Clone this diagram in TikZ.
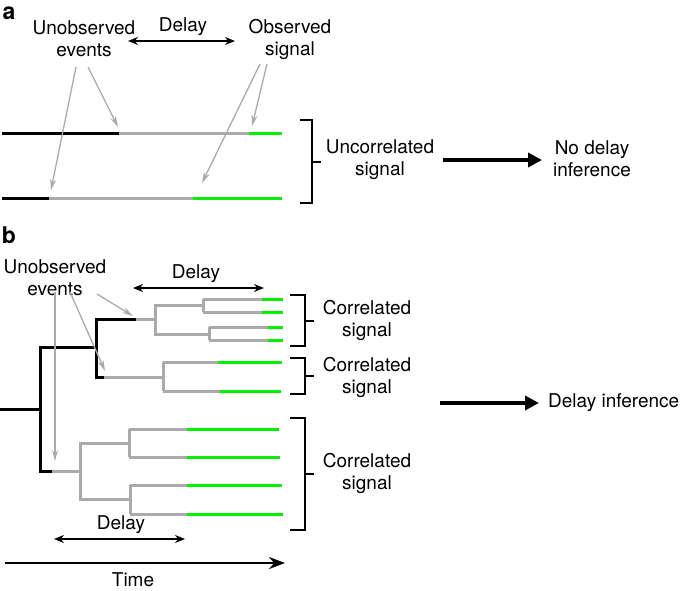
\documentclass[tikz,border=0pt]{standalone}
\usepackage{fontspec}
\setmainfont{TeX Gyre Heros}
\usetikzlibrary{arrows.meta}
\definecolor{lgray}{RGB}{170,170,170}
\definecolor{sgreen}{RGB}{0,240,0}
\begin{document}
\begin{tikzpicture}[x=1pt,y=-1pt,
  txt/.style={font=\fontsize{19}{22}\selectfont, align=center, inner sep=0pt},
  lbl/.style={font=\fontsize{23}{24}\selectfont\bfseries, inner sep=0pt},
  blk/.style={line width=3pt, black},
  gry/.style={line width=3pt, lgray},
  grn/.style={line width=3pt, sgreen},
  pointer/.style={lgray, line width=1.3pt, -{Stealth[length=11pt,width=6pt]}},
  dbl/.style={black, line width=1.6pt, {Stealth[length=10pt,width=8pt]}-{Stealth[length=10pt,width=8pt]}},
  bigarrow/.style={black, line width=4.5pt, -{Triangle[length=14pt,width=14pt]}},
  brk/.style={black, line width=1.4pt}]
\useasboundingbox (0,0) rectangle (683,590);

% ---------------- panel a ----------------
\node[lbl] (la) at (9,13) {a};
\node[txt] (ueA) at (84,39) {Unobserved\\events};
\node[txt] (delA) at (183,27) {Delay};
\node[txt] (osA) at (290,39) {Observed\\signal};
\coordinate (dA1) at (128,41);
\coordinate (dA2) at (235,41);
\draw[dbl] (dA1) -- (dA2);

% lines
\coordinate (a1s) at (2,133); \coordinate (a1b) at (119,133); \coordinate (a1g) at (249,133); \coordinate (a1e) at (282,133);
\coordinate (a2s) at (2,198); \coordinate (a2b) at (49,198); \coordinate (a2g) at (193,198); \coordinate (a2e) at (282,198);
\draw[blk] (a1s) -- (a1b); \draw[gry] (a1b) -- (a1g); \draw[grn] (a1g) -- (a1e);
\draw[blk] (a2s) -- (a2b); \draw[gry] (a2b) -- (a2g); \draw[grn] (a2g) -- (a2e);

% pointers
\coordinate (pa1) at (76,67); \coordinate (pa1e) at (51,190);
\coordinate (pa2) at (88,67); \coordinate (pa2e) at (118,127);
\coordinate (pa3) at (260,64); \coordinate (pa3e) at (202,183);
\coordinate (pa4) at (267,64); \coordinate (pa4e) at (252,126);
\draw[pointer] (pa1) -- (pa1e);
\draw[pointer] (pa2) -- (pa2e);
\draw[pointer] (pa3) -- (pa3e);
\draw[pointer] (pa4) -- (pa4e);

% bracket
\coordinate (bAt) at (300,120); \coordinate (bAb) at (300,203);
\draw[brk] (bAt) -- (312,120) -- (312,203) -- (bAb);
\draw[brk] (312,162) -- (321,162);
\node[txt] (ucA) at (380,160) {Uncorrelated\\signal};
\node[txt] (ndA) at (592,159) {No delay\\inference};
\coordinate (arA1) at (443,160); \coordinate (arA2) at (542,160);
\draw[bigarrow] (arA1) -- (arA2);

% ---------------- panel b ----------------
\node[lbl] (lb) at (9,235) {b};
\node[txt] (ueB) at (55,278) {Unobserved\\events};
\node[txt] (delB) at (196,274) {Delay};
\coordinate (dB1) at (133,288); \coordinate (dB2) at (264,288);
\draw[dbl] (dB1) -- (dB2);

% black backbone
\coordinate (r0) at (0,409); \coordinate (r1) at (40,409);
\coordinate (n1t) at (40,347); \coordinate (n1b) at (40,471);
\coordinate (n2) at (96,347); \coordinate (n2t) at (96,319); \coordinate (n2b) at (96,377);
\draw[blk] (r0) -- (r1);
\draw[blk] (n2) -- (n1t) -- (n1b) -- (52,471);
\draw[blk] (136,319) -- (n2t) -- (n2b) -- (104,377);

% upper clade
\draw[gry] (136,319) -- (155,319);
\draw[gry] (203,305) -- (155,305) -- (155,334) -- (209,334);
\draw[gry] (203,299) -- (203,312);
\draw[gry] (209,327) -- (209,340);
\draw[gry] (203,299) -- (262,299); \draw[grn] (262,299) -- (283,299);
\draw[gry] (203,312) -- (262,312); \draw[grn] (262,312) -- (283,312);
\draw[gry] (209,327) -- (268,327); \draw[grn] (268,327) -- (283,327);
\draw[gry] (209,340) -- (268,340); \draw[grn] (268,340) -- (283,340);

% middle clade
\draw[gry] (104,377) -- (163,377);
\draw[gry] (163,362) -- (163,391);
\draw[gry] (163,362) -- (218,362); \draw[grn] (218,362) -- (282,362);
\draw[gry] (163,391) -- (220,391); \draw[grn] (220,391) -- (281,391);

% lower clade
\draw[gry] (52,471) -- (80,471);
\draw[gry] (129,443) -- (80,443) -- (80,499) -- (130,499);
\draw[gry] (129,429) -- (129,457);
\draw[gry] (130,485) -- (130,514);
\draw[gry] (129,429) -- (187,429); \draw[grn] (187,429) -- (279,429);
\draw[gry] (129,457) -- (187,457); \draw[grn] (187,457) -- (280,457);
\draw[gry] (130,485) -- (187,485); \draw[grn] (187,485) -- (282,485);
\draw[gry] (130,514) -- (187,514); \draw[grn] (187,514) -- (283,514);

% pointers b
\coordinate (pb1) at (97,294); \coordinate (pb1e) at (133,316);
\coordinate (pb2) at (70,292); \coordinate (pb2e) at (105,371);
\coordinate (pb3) at (55,292); \coordinate (pb3e) at (55,461);
\draw[pointer] (pb1) -- (pb1e);
\draw[pointer] (pb2) -- (pb2e);
\draw[pointer] (pb3) -- (pb3e);

% brackets b
\draw[brk] (290,295) -- (305,295) -- (305,346) -- (290,346);
\draw[brk] (305,321) -- (314,321);
\draw[brk] (290,358) -- (305,358) -- (305,394) -- (290,394);
\draw[brk] (305,376) -- (314,376);
\draw[brk] (290,418) -- (305,418) -- (305,530) -- (290,530);
\draw[brk] (305,474) -- (314,474);
\node[txt] (cs1) at (367,320) {Correlated\\signal};
\node[txt] (cs2) at (367,377) {Correlated\\signal};
\node[txt] (cs3) at (367,473) {Correlated\\signal};

\coordinate (arB1) at (440,403); \coordinate (arB2) at (539,403);
\draw[bigarrow] (arB1) -- (arB2);
\node[txt, anchor=west] (diB) at (548,403) {Delay inference};

% bottom delay and time
\node[txt] (delC) at (121,525) {Delay};
\coordinate (dC1) at (54,539); \coordinate (dC2) at (185,539);
\draw[dbl] (dC1) -- (dC2);
\coordinate (t1) at (5,563); \coordinate (t2) at (285,563);
\draw[black, line width=2.4pt, -{Stealth[length=16pt,width=12pt]}] (t1) -- (t2);
\node[txt] (time) at (133,580) {Time};
\end{tikzpicture}
\end{document}
